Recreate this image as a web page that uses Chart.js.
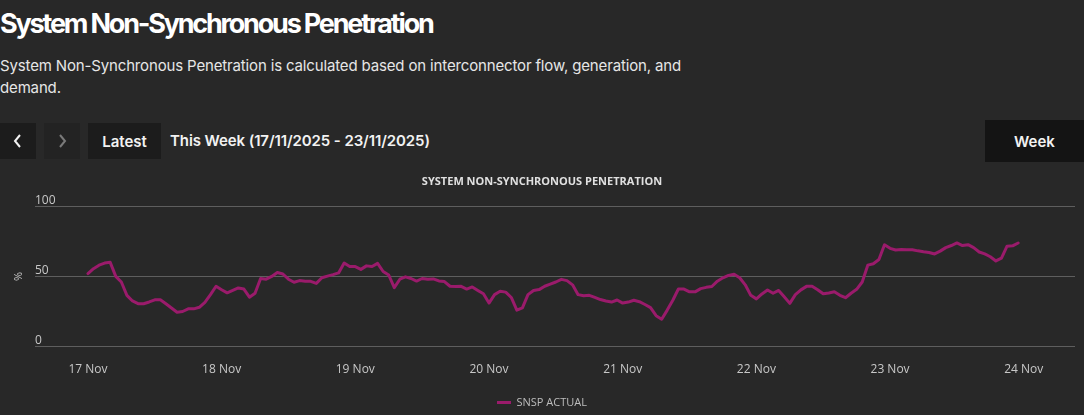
<!DOCTYPE html>
<html>
<head>
<meta charset="utf-8">
<script src="https://cdn.jsdelivr.net/npm/chart.js@4/dist/chart.umd.min.js"></script>
<style>
  html, body { margin:0; padding:0; background:#282828; width:1084px; height:415px; overflow:hidden; }
  body { position:relative; font-family: Inter, "Noto Sans", sans-serif; color:#f2f2f2; }
  h1 { position:absolute; left:0; top:6px; margin:0; font-size:27px; font-weight:700; letter-spacing:-2.2px; line-height:36px; color:#fff; }
  .desc { position:absolute; left:0; top:55px; width:700px; font-size:15px; line-height:22px; color:#e6e6e6; letter-spacing:-0.15px; }
  .btn { position:absolute; top:123px; height:36px; background:#1c1c1c; display:flex; align-items:center; justify-content:center; font-size:15px; font-weight:600; color:#f2f2f2; }
  .range { position:absolute; left:170px; top:123px; height:36px; line-height:36px; font-size:15px; font-weight:600; color:#f2f2f2; letter-spacing:-0.1px; }
  .chartbox { position:absolute; left:0; top:168px; width:1084px; height:247px; }
</style>
</head>
<body>
<h1>System Non-Synchronous Penetration</h1>
<div class="desc">System Non-Synchronous Penetration is calculated based on interconnector flow, generation, and demand.</div>
<div class="btn" style="left:0;width:36px;">
  <svg width="12" height="14" viewBox="0 0 12 14"><path d="M8 1 L3 7 L8 13" stroke="#f2f2f2" stroke-width="2" fill="none"/></svg>
</div>
<div class="btn" style="left:44px;width:36px;background:#232323;">
  <svg width="12" height="14" viewBox="0 0 12 14"><path d="M4 1 L9 7 L4 13" stroke="#7a7a7a" stroke-width="2" fill="none"/></svg>
</div>
<div class="btn" style="left:88px;width:73px;">Latest</div>
<div class="range">This Week (17/11/2025 - 23/11/2025)</div>
<div class="btn" style="left:985px;top:120px;height:42px;width:99px;background:#141414;">Week</div>
<div class="chartbox"><canvas id="c" width="1084" height="247"></canvas></div>
<script>
const dayLabels = ['17 Nov','18 Nov','19 Nov','20 Nov','21 Nov','22 Nov','23 Nov','24 Nov'];
const yTicks = [0, 50, 100];
const seriesName = 'SNSP ACTUAL';
// hourly values from 17 Nov 00:00
const snspActual = [
  52, 55.5, 58, 59.5, 60, 50, 46, 36.5, 32.5, 30.6, 30.5, 31.8, 33.3, 33.3, 30.5, 27.5, 24.5, 25, 26.9, 26.9, 28, 31.5, 37, 43,
  40.5, 38.3, 40, 41.8, 41, 35.2, 38, 48.5, 48, 50, 52.8, 51.7, 48, 45.8, 47, 46.5, 46.5, 45, 49, 50.2, 51.3, 52.5, 59.5, 57,
  57, 55, 57.5, 57, 59.3, 53.5, 51, 42, 48, 49.7, 48.5, 46.7, 48.5, 48, 48.2, 46.8, 46.3, 43, 42.8, 42.9, 41, 42.5, 40, 37.6,
  31, 37, 39.4, 38.8, 35, 26, 27.6, 37, 40, 40.6, 43, 44.5, 46, 47.9, 47, 44, 37, 36.2, 36.5, 35, 33.5, 32.5, 31.7, 33.2,
  31, 31.7, 33, 32, 30, 27.8, 22, 19.5, 26, 33, 41, 41, 39, 39, 41.3, 42.2, 42.8, 46.6, 49, 50.7, 51.5, 49, 44, 36.5,
  34, 37.5, 40.3, 38, 40, 35.5, 30.8, 37, 40.4, 42.9, 43, 40.5, 37.6, 38.2, 39, 36.5, 34.8, 38, 40.8, 46, 58, 59, 62, 72.5,
  70, 68.8, 69.2, 69, 69, 68.2, 67.5, 67, 66, 68, 70.5, 72, 73.8, 72, 72.6, 70.5, 67.4, 66, 64, 61, 63, 71.5, 71.8, 73.8
];
const lineColor = '#9a1b6b';
const tickFont = { family: 'Open Sans', size: 12 };

new Chart(document.getElementById('c'), {
  type: 'line',
  data: {
    datasets: [{
      label: seriesName,
      data: snspActual.map((v, i) => ({ x: i, y: v })),
      borderColor: lineColor,
      backgroundColor: lineColor,
      borderWidth: 3,
      pointRadius: 0,
      tension: 0,
      borderJoinStyle: 'round',
      borderCapStyle: 'round'
    }]
  },
  options: {
    responsive: false,
    animation: false,
    events: [],
    layout: { padding: { left: 9, right: 9, top: 0, bottom: -3 } },
    plugins: {
      tooltip: { enabled: false },
      title: {
        display: true,
        text: 'SYSTEM NON-SYNCHRONOUS PENETRATION',
        color: '#e0e0e0',
        font: { family: 'Open Sans', size: 11, weight: 'bold' },
        padding: { top: 7, bottom: 18 }
      },
      legend: {
        position: 'bottom',
        labels: {
          color: '#bdbdbd',
          font: { family: 'Open Sans', size: 11 },
          boxWidth: 14,
          boxHeight: 3,
          padding: 9,
          generateLabels: (chart) => Chart.defaults.plugins.legend.labels.generateLabels(chart).map(l => Object.assign(l, { lineWidth: 0, fillStyle: lineColor }))
        }
      }
    },
    scales: {
      x: {
        type: 'linear',
        min: -9.5,
        max: 177.2,
        afterBuildTicks: (s) => { s.ticks = dayLabels.map((d, i) => ({ value: i * 24 })); },
        afterFit: (s) => { s.height = s.height - 5; },
        ticks: {
          color: '#c8c8c8',
          font: tickFont,
          padding: 16,
          maxRotation: 0,
          autoSkip: false,
          callback: (v) => dayLabels[Math.round(v / 24)]
        },
        grid: { display: false, drawTicks: false },
        border: { display: false }
      },
      y: {
        min: 0,
        max: 100,
        afterBuildTicks: (s) => { s.ticks = yTicks.map(v => ({ value: v })); },
        afterFit: (s) => { s.width = 26; },
        ticks: {
          mirror: true,
          padding: 0,
          labelOffset: -6,
          color: '#c8c8c8',
          font: tickFont
        },
        grid: { color: '#5e5e5e', lineWidth: 1, drawTicks: false },
        border: { display: false },
        title: {
          display: true,
          text: '%',
          color: '#c8c8c8',
          font: { family: 'Open Sans', size: 11 },
          padding: { top: 3, bottom: 0 }
        }
      }
    }
  }
});
</script>
</body>
</html>
